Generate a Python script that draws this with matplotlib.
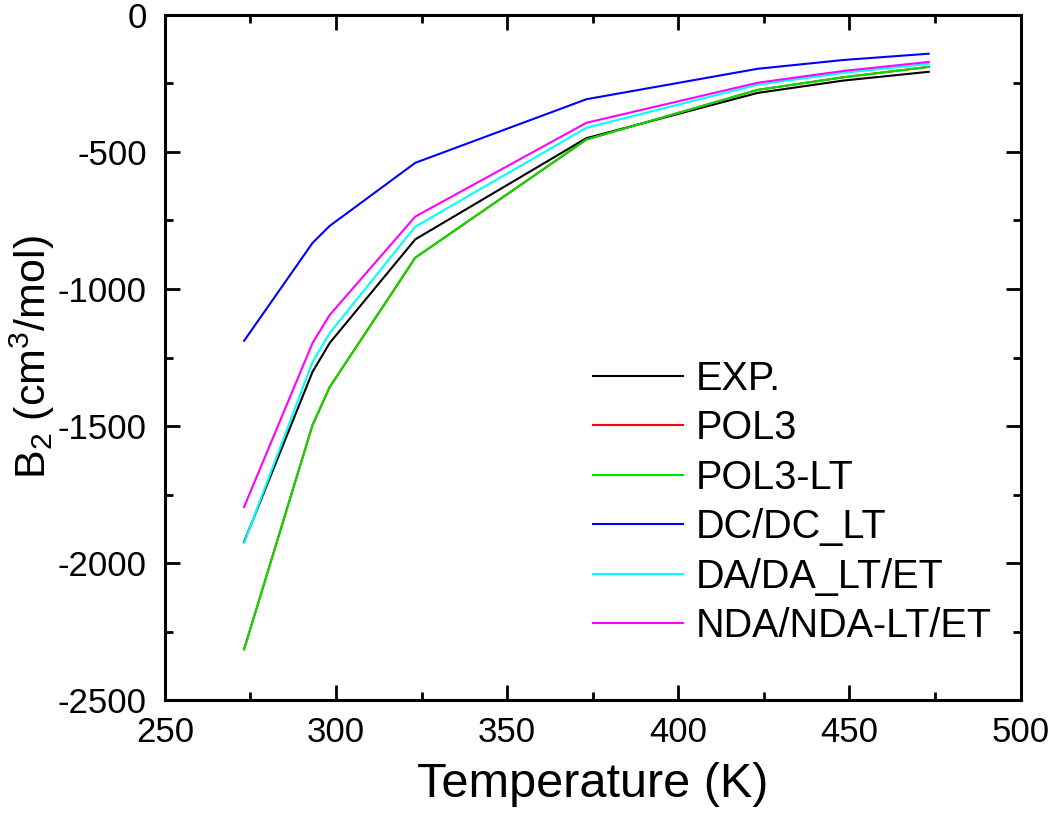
import matplotlib
matplotlib.use('Agg')
import matplotlib.pyplot as plt
from matplotlib.ticker import MultipleLocator

# Temperatures (K) and second virial coefficients (cm^3/mol)
temperature = [273.15, 293.15, 298.15, 323.15, 373.15, 423.15, 448.15, 473.15]

exp_b2 = [-1922, -1302, -1197, -819, -450, -285, -240, -208]
pol3 = [-2314, -1496, -1358, -886, -455, -274, -228, -190]
pol3_lt = [-2314, -1496, -1358, -886, -455, -274, -228, -190]
dc_dclt = [-1189, -832, -770, -540, -308, -197, -165, -142]
da_dalt_et = [-1926, -1266, -1161, -773, -412, -255, -212, -179]
nda_ndalt_et = [-1795, -1197, -1095, -736, -394, -248, -205, -172]

series = [
    ('EXP.', exp_b2, 'black'),
    ('POL3', pol3, 'red'),
    ('POL3-LT', pol3_lt, '#00e000'),
    ('DC/DC_LT', dc_dclt, '#0000ff'),
    ('DA/DA_LT/ET', da_dalt_et, '#00ffff'),
    ('NDA/NDA-LT/ET', nda_ndalt_et, '#ff00ff'),
]

plt.rcParams['font.family'] = ['Liberation Sans', 'DejaVu Sans']
plt.rcParams['mathtext.default'] = 'regular'
plt.rcParams['axes.unicode_minus'] = False

fig = plt.figure(figsize=(10.5, 8.21), dpi=100)
ax = fig.add_axes([0.157, 0.147, 0.815, 0.835])

for label, values, color in series:
    ax.plot(temperature, values, color=color, linewidth=1.5, label=label)

ax.set_xlim(250, 500)
ax.set_ylim(-2500, 0)
ax.xaxis.set_major_locator(MultipleLocator(50))
ax.xaxis.set_minor_locator(MultipleLocator(25))
ax.yaxis.set_major_locator(MultipleLocator(500))
ax.yaxis.set_minor_locator(MultipleLocator(250))

ax.tick_params(which='both', direction='in', top=True, right=True,
               width=2, labelsize=25)
ax.tick_params(axis='x', pad=11)
ax.tick_params(axis='y', pad=13)
ax.tick_params(which='major', length=11)
ax.tick_params(which='minor', length=6)
for spine in ax.spines.values():
    spine.set_linewidth(2.2)

ax.set_xlabel('Temperature (K)', fontsize=35, labelpad=10)
ax.set_ylabel('B$_2$ (cm$^3$/mol)', fontsize=31)
ax.yaxis.set_label_coords(-0.126, 0.5)

ax.legend(loc='upper left', bbox_to_anchor=(0.5, 0.497), frameon=False,
          fontsize=28.5, handlelength=2.27, handletextpad=0.33,
          labelspacing=0.29, borderpad=0, borderaxespad=0)

fig.savefig('out.png', dpi=100)
